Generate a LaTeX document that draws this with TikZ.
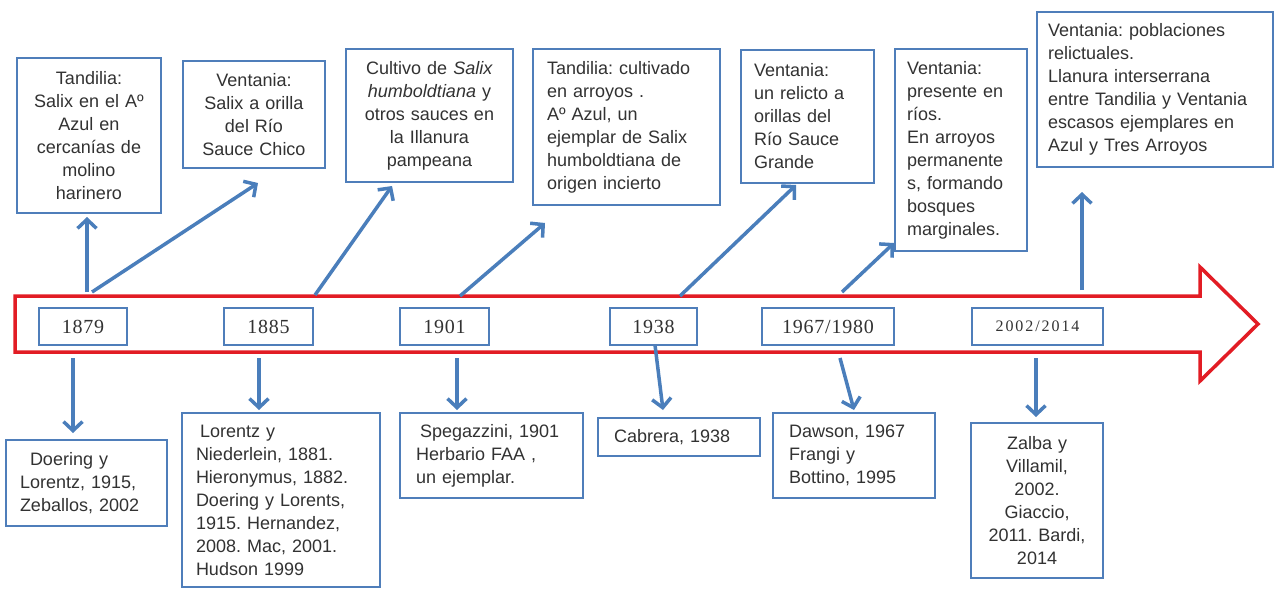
\documentclass[tikz,border=0pt]{standalone}
\usepackage{fontspec}
\setmainfont{Liberation Sans}
\newfontfamily\yearfont{Liberation Serif}
\usetikzlibrary{arrows.meta}
\definecolor{boxblue}{RGB}{79,126,186}
\definecolor{arrblue}{RGB}{74,126,187}
\definecolor{tlred}{RGB}{226,28,36}
\definecolor{txt}{RGB}{50,50,50}
\frenchspacing
\begin{document}
\begin{tikzpicture}[x=1pt,y=-1pt,
  tb/.style={draw=boxblue, line width=2pt, fill=white, text=txt,
    font=\fontsize{18}{23}\selectfont\frenchspacing, anchor=north west, inner ysep=2pt, outer sep=0pt},
  yb/.style={draw=boxblue, line width=2pt, fill=white, text=txt,
    font=\yearfont\fontsize{20}{24}\selectfont\addfontfeature{LetterSpace=4}, anchor=north west,
    minimum height=37pt, inner sep=0pt, outer sep=0pt},
  conn/.style={draw=arrblue, line width=3.5pt, -{Straight Barb[length=9pt,width=19pt]}},
  tline/.style={draw=tlred, line width=3.5pt, fill=white, line join=miter}
]
\useasboundingbox (0,0) rectangle (1276,590);

% timeline arrow
\draw[tline] (15,296) -- (1200,296) -- (1200,267) -- (1258,324) -- (1200,381) -- (1200,352) -- (15,352) -- cycle;

% connector start/end coordinates
\coordinate (u1s) at (87,292);   \coordinate (u1e) at (87,217);
\coordinate (u2s) at (92,292);   \coordinate (u2e) at (258,183);
\coordinate (u3s) at (315,295);  \coordinate (u3e) at (392,186);
\coordinate (u4s) at (460,296);  \coordinate (u4e) at (545,223);
\coordinate (u5s) at (680,296);  \coordinate (u5e) at (796,185);
\coordinate (u6s) at (842,292);  \coordinate (u6e) at (894,243);
\coordinate (u7s) at (1082,290); \coordinate (u7e) at (1082,192);
\coordinate (d1s) at (73,358);   \coordinate (d1e) at (73,433);
\coordinate (d2s) at (259,358);  \coordinate (d2e) at (259,410);
\coordinate (d3s) at (457,358);  \coordinate (d3e) at (457,410);
\coordinate (d4s) at (655,345);  \coordinate (d4e) at (663,410);
\coordinate (d5s) at (840,358);  \coordinate (d5e) at (854,410);
\coordinate (d6s) at (1036,358); \coordinate (d6e) at (1036,417);

\foreach \n in {u1,u2,u3,u4,u5,u6,u7,d1,d2,d3,d4,d5,d6}
  \draw[conn] (\n s) -- (\n e);

% year boxes
\node[yb, minimum width=88pt]  (Y1) at (39,308)  {1879};
\node[yb, minimum width=89pt]  (Y2) at (224,308) {1885};
\node[yb, minimum width=89pt]  (Y3) at (400,308) {1901};
\node[yb, minimum width=87pt]  (Y4) at (610,308) {1938};
\node[yb, minimum width=132pt] (Y5) at (762,308) {1967/1980};
\node[yb, minimum width=131pt, font=\yearfont\fontsize{16}{20}\selectfont\addfontfeature{LetterSpace=12}] (Y6) at (972,308) {2002/2014};

% top boxes
\node[tb, minimum width=144pt, minimum height=155pt, text width=136pt, inner xsep=4pt, align=center] (T1) at (17,58)
  {Tandilia:\\Salix en el Aº\\Azul en\\cercanías de\\molino\\harinero};
\node[tb, minimum width=142pt, minimum height=107pt, text width=134pt, inner xsep=4pt, align=center] (T2) at (183,61)
  {Ventania:\\Salix a orilla\\del Río\\Sauce Chico};
\node[tb, minimum width=167pt, minimum height=133pt, text width=159pt, inner xsep=4pt, align=center] (T3) at (346,49)
  {Cultivo de \textit{Salix}\\\textit{humboldtiana} y\\otros sauces en\\la Illanura\\pampeana};
\node[tb, minimum width=187pt, minimum height=156pt, text width=159pt, inner xsep=14pt, align=left] (T4) at (533,49)
  {Tandilia: cultivado\\en arroyos .\\Aº Azul, un\\ejemplar de Salix\\humboldtiana de\\origen incierto};
\node[tb, minimum width=133pt, minimum height=133pt, text width=107pt, inner xsep=13pt, align=left] (T5) at (741,50)
  {Ventania:\\un relicto a\\orillas del\\Río Sauce\\Grande};
\node[tb, minimum width=132pt, minimum height=202pt, text width=108pt, inner xsep=12pt, align=left] (T6) at (895,49)
  {Ventania:\\presente en\\ríos.\\En arroyos\\permanente\\s, formando\\bosques\\marginales.};
\node[tb, minimum width=236pt, minimum height=155pt, text width=214pt, inner xsep=11pt, align=left] (T7) at (1037,12)
  {Ventania: poblaciones\\relictuales.\\Llanura interserrana\\entre Tandilia y Ventania\\escasos ejemplares en\\Azul y Tres Arroyos};

% bottom boxes
\node[tb, minimum width=161pt, minimum height=86pt, text width=133pt, inner xsep=14pt, align=left] (B1) at (6,440)
  {\hspace{10pt}Doering y\\Lorentz, 1915,\\Zeballos, 2002};
\node[tb, minimum width=198pt, minimum height=174pt, text width=170pt, inner xsep=14pt, align=left] (B2) at (182,413)
  {\hspace{4pt}Lorentz y\\Niederlein, 1881.\\Hieronymus, 1882.\\Doering y Lorents,\\1915. Hernandez,\\2008. Mac, 2001.\\Hudson 1999};
\node[tb, minimum width=183pt, minimum height=85pt, text width=151pt, inner xsep=16pt, align=left] (B3) at (400,413)
  {\hspace{4pt}Spegazzini, 1901\\Herbario FAA ,\\un ejemplar.};
\node[tb, minimum width=162pt, minimum height=38pt, text width=130pt, inner xsep=16pt, align=left] (B4) at (598,418)
  {Cabrera, 1938};
\node[tb, minimum width=162pt, minimum height=85pt, text width=130pt, inner xsep=16pt, align=left] (B5) at (773,413)
  {Dawson, 1967\\Frangi y\\Bottino, 1995};
\node[tb, minimum width=132pt, minimum height=155pt, text width=124pt, inner xsep=4pt, align=center] (B6) at (971,423)
  {Zalba y\\Villamil,\\2002.\\Giaccio,\\2011. Bardi,\\2014};
\end{tikzpicture}
\end{document}
